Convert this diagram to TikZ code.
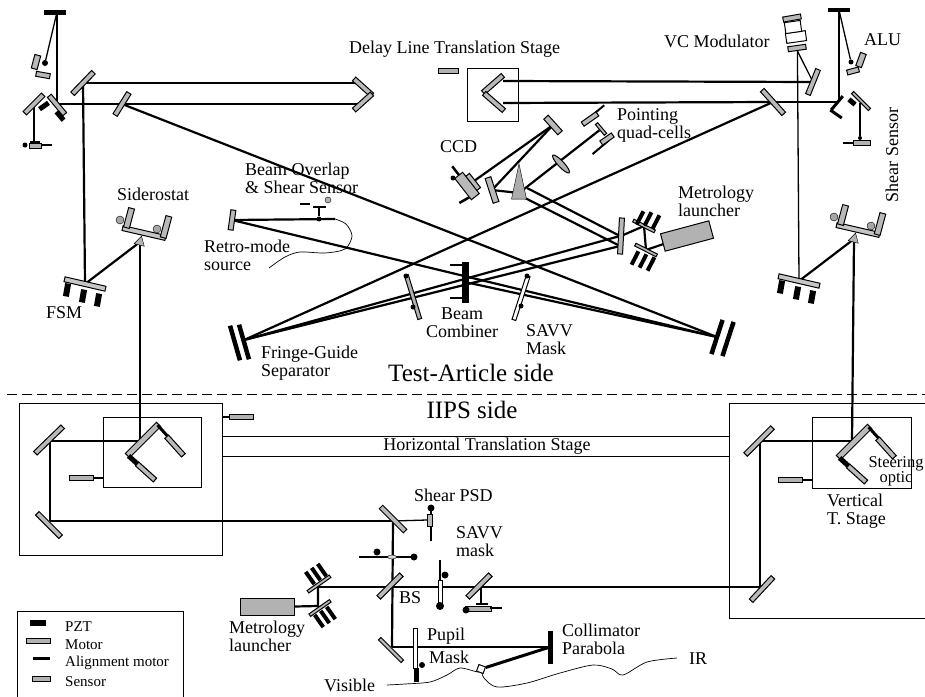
\documentclass[tikz,border=0pt]{standalone}
\usepackage{fontspec}
\setmainfont{Liberation Serif}
\usetikzlibrary{backgrounds, shapes.geometric}

\begin{document}
\begin{tikzpicture}[
  x=1pt, y=-1pt,
  mirror/.style={draw=black, fill=gray!55, line width=1pt, inner sep=0pt, minimum width=#1, minimum height=5pt},
  mirror/.default=26pt,
  pzt/.style={fill=black, inner sep=0pt, minimum width=#1, minimum height=5pt},
  pzt/.default=14pt,
  sensorbar/.style={draw=black, fill=gray!60, line width=1pt, inner sep=0pt, minimum width=24pt, minimum height=4.5pt},
  launcher/.style={draw=black, fill=gray!60, line width=1pt, inner sep=0pt},
  stagebox/.style={draw=black, line width=1pt, inner sep=0pt},
  ball/.style={circle, fill=black, inner sep=0pt, minimum size=#1},
  ball/.default=6pt,
  wedge/.style={regular polygon, regular polygon sides=3, draw=black, fill=gray!60, inner sep=0pt, minimum size=13pt},
  maskbar/.style={draw=black, fill=white, line width=1pt, inner sep=0pt, minimum width=#1, minimum height=4pt},
  beam/.style={line width=2.2pt},
  thinbeam/.style={line width=1.3pt},
  stageline/.style={line width=.9pt},
  fiber/.style={line width=.7pt},
  lbl/.style={inner sep=0pt, align=left, anchor=west, font=\fontsize{18}{18}\selectfont},
  lblc/.style={inner sep=0pt, align=center, font=\fontsize{18}{18}\selectfont},
  big/.style={inner sep=0pt, font=\fontsize{25}{25}\selectfont},
  leg/.style={inner sep=0pt, anchor=west, font=\fontsize{15}{15}\selectfont}
]
  \path[use as bounding box] (0,0) rectangle (925,696);

  % Test-article side, left arm
  \node[pzt=22pt] (aluL) at (55,12) {};
  \coordinate (aluLs) at (57,12);
  \coordinate (aluLt) at (57,104);
  \node[mirror=26pt, rotate=45] (shearL) at (34,104) {};
  \node[mirror=24pt, rotate=-50] (roofL) at (57,105) {};
  \node[pzt=11pt, rotate=-50] (roofLa) at (60,116) {};
  \node[pzt=11pt, rotate=35] (roofLb) at (44,106) {};
  \node[mirror=14pt, rotate=75, minimum height=6pt] (aluLa) at (36,62) {};
  \node[mirror=14pt, rotate=-10] (aluLb) at (43,75) {};
  \node[ball=6pt] (aluLc) at (45,63) {};
  \node[pzt=10pt, minimum height=2pt] (shearLa) at (35,142) {};
  \node[sensorbar, minimum width=12pt] (shearLb) at (35,146) {};
  \node[ball=5pt] (shearLc) at (25,145) {};
  \node[pzt=10pt, minimum height=1.5pt] (shearLd) at (47,145) {};
  \node[mirror=30pt, rotate=46] (foldA) at (83,83) {};
  \node[mirror=26pt, rotate=58] (pickA) at (122,104) {};
  \node[mirror=24pt, rotate=-42] (dlLa) at (363,87) {};
  \node[mirror=24pt, rotate=42] (dlLb) at (363,102) {};
  \coordinate (dlLtop) at (358,83);
  \coordinate (dlLbot) at (358,104);

  % Test-article side, right arm
  \node[pzt=22pt, minimum height=4pt] (aluR) at (839,10) {};
  \node[pzt=18pt, rotate=50, minimum height=3pt] (roofR) at (837,103) {};
  \node[pzt=14pt, rotate=-35, minimum height=3pt] (roofRa) at (836,114) {};
  \node[mirror=24pt, rotate=-45, minimum height=3pt] (shearR) at (861,101) {};
  \node[pzt=8pt, rotate=-40] (roofRb) at (852,102) {};
  \node[mirror=14pt, rotate=70, minimum height=6pt] (aluRa) at (861,60) {};
  \node[mirror=12pt, rotate=15] (aluRb) at (853,71) {};
  \node[ball=5pt] (aluRc) at (851,62) {};
  \node[sensorbar, minimum width=17pt] (shearRa) at (862,143) {};
  \node[pzt=10pt, minimum height=1.5pt] (shearRb) at (848,143) {};
  \node[ball=4pt] (shearRc) at (860,138) {};
  \coordinate (shearRt) at (860,103);
  \node[mirror=32pt, rotate=-48] (pickB) at (773,102) {};
  \node[mirror=27pt, rotate=68] (vcMirror) at (813,82) {};
  \node[mirror=18pt, rotate=8] (vcA) at (797,48) {};
  \node[draw, fill=white, line width=1pt, minimum width=20pt, minimum height=10pt, rotate=8, inner sep=0pt] (vcB) at (796,37) {};
  \node[draw, fill=white, line width=1pt, minimum width=16pt, minimum height=11pt, rotate=8, inner sep=0pt] (vcC) at (793,27) {};
  \node[mirror=18pt, rotate=10] (vcD) at (792,18) {};
  \node[stagebox, minimum width=51pt, minimum height=53pt] (delayBox) at (492.5,94.5) {};
  \node[mirror=26pt, rotate=41] (dlRa) at (493,84) {};
  \node[mirror=26pt, rotate=-41] (dlRb) at (494,102) {};
  \node[sensorbar, minimum width=20pt, fill=gray!60] (delaySensor) at (448,71) {};
  \coordinate (dlRtop) at (503,81);
  \coordinate (dlRbot) at (503,103);

  % FSM and siderostat, both arms
  \foreach \s/\dx/\dy in {L/0/0, R/714/-3} {
    \begin{scope}[shift={(\dx,\dy)}]
      \node[mirror=42pt, rotate=-13, fill=gray!45] (fsm\s) at (85,284) {};
      \node[pzt=13pt, rotate=80, minimum height=6pt] (fsm\s a) at (67,290) {};
      \node[pzt=13pt, rotate=80, minimum height=6pt] (fsm\s b) at (83,296) {};
      \node[pzt=13pt, rotate=80, minimum height=6pt] (fsm\s c) at (98,300) {};
      \node[mirror=44pt, rotate=-13, fill=gray!45] (sid\s) at (144,233) {};
      \node[mirror=20pt, rotate=75, minimum height=6pt] (sid\s a) at (129,218) {};
      \node[mirror=22pt, rotate=75, minimum height=6pt] (sid\s b) at (166,227) {};
      \node[ball=8pt, draw=black, fill=gray!70] (sid\s c) at (120,220) {};
      \node[ball=8pt, draw=black, fill=gray!70] (sid\s d) at (157,229) {};
      \node[wedge, minimum size=12pt, rotate=-15] (sid\s e) at (140,242) {};
    \end{scope}
  }

  % Beam combiner and fringe-guide mirrors
  \node[pzt=41pt, rotate=90, minimum height=7pt] (combiner) at (465,282) {};
  \node[pzt=15pt, minimum height=2.5pt] (combinerA) at (457,265) {};
  \node[pzt=15pt, minimum height=2.5pt] (combinerB) at (457,298) {};
  \node[pzt=36pt, rotate=-74, minimum height=4.5pt] (fgLa) at (235,343) {};
  \node[pzt=36pt, rotate=-74, minimum height=4.5pt] (fgLb) at (244,342) {};
  \node[pzt=36pt, rotate=72, minimum height=4.5pt] (fgRa) at (717,337) {};
  \node[pzt=36pt, rotate=72, minimum height=4.5pt] (fgRb) at (728,339) {};
  \coordinate (fgLc) at (244,340);
  \coordinate (fgRc) at (717,337);
  \node[maskbar=46pt, rotate=-73, draw=black, fill=gray!60] (savvL) at (413,297) {};
  \node[ball=5pt] (savvLa) at (406,276) {};
  \node[ball=5pt] (savvLb) at (413,307) {};
  \node[maskbar=46pt, rotate=72] (savvR) at (521,298) {};
  \node[ball=5pt] (savvRa) at (527,276) {};
  \node[ball=5pt] (savvRb) at (521,306) {};

  % Retro-mode source and beam overlap sensor
  \node[mirror=20pt, rotate=82, minimum height=5pt] (retroM) at (232,220) {};
  \node[ball=5pt] (bosA) at (319,219) {};
  \node[pzt=13pt, minimum height=2.5pt] (bosB) at (319,207) {};
  \node[pzt=10pt, minimum height=2pt] (bosC) at (305,204) {};
  \node[ball=6pt, draw=black, fill=gray!60] (bosD) at (328,200) {};
  \coordinate (bosEnd) at (335,219);
  \coordinate (retroEnd) at (269,268);

  % CCD, pointing and metrology
  \node[mirror=21pt, rotate=-48, minimum height=6pt] (ccdA) at (553,125) {};
  \node[mirror=26pt, rotate=-72, minimum height=6pt] (ccdB) at (492,190) {};
  \node[wedge, isosceles triangle, shape border rotate=90, isosceles triangle apex angle=24, minimum size=15pt, minimum height=30pt, fill=gray!65] (splitter) at (519,193) {};
  \coordinate (splitA) at (527,188);
  \coordinate (splitB) at (525,198);
  \coordinate (combMa) at (620,236);
  \coordinate (combMb) at (620,246);
  \node[pzt=22pt, rotate=-52, minimum height=2.5pt] (ccdC) at (459,175) {};
  \node[pzt=20pt, rotate=30, minimum height=2.5pt] (ccdE) at (468,198) {};
  \node[mirror=18pt, rotate=-52] (ccdF) at (473,182) {};
  \node[mirror=27pt, rotate=-52, minimum height=10pt] (ccd) at (467,186) {};
  \node[ball=5pt] (ccdD) at (453,178) {};
  \node[ellipse, draw=black, fill=gray!60, rotate=-47, minimum width=24pt, minimum height=6pt, inner sep=0pt, line width=1pt] (lens) at (561,164) {};
  \node[pzt=24pt, rotate=40, minimum height=2pt] (quadAa) at (595,113) {};
  \node[mirror=18pt, rotate=35] (quadA) at (590,119) {};
  \node[pzt=22pt, rotate=40, minimum height=2pt] (quadBa) at (601,147) {};
  \node[mirror=14pt, rotate=35] (quadB) at (607,139) {};
  \node[mirror=14pt, rotate=-50, minimum height=3pt] (quadSplit) at (601,129) {};
  \node[mirror=36pt, rotate=87, minimum height=5pt] (combM) at (621,236) {};
  \node[launcher, minimum width=50pt, minimum height=18pt, rotate=15] (launchT) at (687,236) {};
  \node[mirror=24pt, rotate=-27, minimum height=3pt] (launchTa) at (644,226) {};
  \node[mirror=24pt, rotate=-27, minimum height=3pt] (launchTb) at (646,250) {};
  \foreach \n/\lx/\ly in {a/640/218, b/648/219, c/656/222} {
    \node[pzt=15pt, rotate=63, minimum height=4pt] (launchTa\n) at (\lx,\ly) {};
  }
  \foreach \n/\lx/\ly in {a/635/258, b/643/261, c/651/264} {
    \node[pzt=15pt, rotate=63, minimum height=4pt] (launchTb\n) at (\lx,\ly) {};
  }

  % IIPS side, stages
  \node[stagebox, minimum width=203pt, minimum height=152pt] (outerL) at (120.5,479) {};
  \node[stagebox, minimum width=98pt, minimum height=70pt] (innerL) at (152,452) {};
  \node[stagebox, minimum width=203pt, minimum height=215pt] (outerR) at (830.5,510.5) {};
  \node[stagebox, minimum width=99pt, minimum height=71pt] (innerR) at (861.5,452.5) {};
  \node[sensorbar] (stageSensorA) at (241,417) {};
  \node[sensorbar] (stageSensorB) at (81,478) {};
  \node[sensorbar] (stageSensorC) at (790,480) {};
  \coordinate (hsTopL) at (222,436);
  \coordinate (hsBotL) at (222,456);
  \coordinate (hsTopR) at (729,436);
  \coordinate (hsBotR) at (729,456);
  \coordinate (divL) at (7,394);
  \coordinate (divR) at (925,394);

  % IIPS side, steering optics
  \foreach \s/\dx/\dy in {L/0/0, R/711/2} {
    \begin{scope}[shift={(\dx,\dy)}]
      \node[mirror=44pt, rotate=45, minimum height=6pt] (steerA\s) at (143,440) {};
      \node[pzt=40pt, rotate=-48, minimum height=3pt] (steerB\s) at (171,440) {};
      \node[mirror=25pt, rotate=-48] (steerD\s) at (175,446) {};
      \node[pzt=36pt, rotate=-42, minimum height=5pt] (steerC\s) at (142,468) {};
      \node[mirror=24pt, rotate=-42] (steerE\s) at (146,472) {};
    \end{scope}
  }
  \node[mirror=38pt, rotate=44] (foldB) at (49,440) {};
  \node[mirror=33pt, rotate=-45] (foldC) at (49,525) {};
  \node[mirror=38pt, rotate=45] (foldD) at (759,441) {};
  \node[mirror=32pt, rotate=47] (foldE) at (762,589) {};
  \coordinate (steerInL) at (140,441);
  \coordinate (steerInR) at (852,441);
  \coordinate (foldBc) at (50,441);
  \coordinate (foldCc) at (50,521);
  \coordinate (foldDc) at (760,441);
  \coordinate (foldEc) at (760,587);

  % IIPS side, source bench
  \node[mirror=34pt, rotate=-45] (psdM) at (393,519) {};
  \node[pzt=36pt, rotate=90, minimum height=2.5pt] (psd) at (431,523) {};
  \node[mirror=12pt, rotate=90] (psdA) at (430,520) {};
  \node[ball=7pt] (psdB) at (431,508) {};
  \coordinate (psdIn) at (427,520);
  \node[pzt=42pt, minimum height=2.5pt] (overlap) at (380,557) {};
  \node[pzt=16pt, minimum height=2.5pt] (overlapB) at (406,557) {};
  \node[ellipse, draw=black, fill=gray!30, minimum width=9pt, minimum height=4pt, inner sep=0pt] (overlapC) at (392,557) {};
  \node[ball=7pt] (overlapA) at (377,552) {};
  \node[ball=7pt] (overlapD) at (414,557) {};
  \node[mirror=32pt, rotate=45] (bs) at (390,586) {};
  \node[pzt=47pt, rotate=90, minimum height=2.5pt] (savvB) at (440,583) {};
  \node[maskbar=24pt, rotate=90] (savvBa) at (440,592) {};
  \node[ball=7pt] (savvBb) at (445,575) {};
  \node[ball=8pt] (savvBc) at (440,606) {};
  \node[mirror=32pt, rotate=45] (altM) at (479,586) {};
  \node[pzt=12pt, minimum height=2.5pt] (altA) at (482,604) {};
  \node[sensorbar, minimum width=26pt] (altB) at (478,609) {};
  \node[pzt=12pt, minimum height=2pt] (altC) at (496,608) {};
  \node[ball=7pt] (altD) at (466,610) {};
  \coordinate (altT) at (481,587);
  \coordinate (altS) at (481,603);
  \node[mirror=32pt, rotate=-45, minimum height=3.5pt] (lowM) at (391,650) {};
  \node[pzt=33pt, rotate=90] (collimator) at (550,647) {};
  \node[maskbar=40pt, rotate=90] (pupil) at (415,648) {};
  \node[pzt=14pt, rotate=90, minimum height=5pt] (pupilA) at (416,675) {};
  \node[ball=6pt] (pupilB) at (422,665) {};
  \node[draw=black, fill=white, line width=1pt, rotate=-20, minimum size=7pt, inner sep=0pt] (tip) at (481,669) {};
  \coordinate (lowMc) at (392,647);
  \coordinate (visEnd) at (387,685);
  \coordinate (irEnd) at (677,658);
  \node[launcher, minimum width=54pt, minimum height=17pt] (launchB) at (267,606.5) {};
  \node[mirror=27pt, rotate=35, minimum height=3pt] (launchBa) at (319,584) {};
  \node[mirror=25pt, rotate=35, minimum height=3pt] (launchBb) at (320,608) {};
  \foreach \n/\lx/\ly in {a/310/578, b/316/574, c/322/570} {
    \node[pzt=15pt, rotate=125, minimum height=4pt] (launchBa\n) at (\lx,\ly) {};
  }
  \foreach \n/\lx/\ly in {a/319/621, b/325/617, c/331/613} {
    \node[pzt=15pt, rotate=125, minimum height=4pt] (launchBb\n) at (\lx,\ly) {};
  }
  \coordinate (launchBc) at (318,606);
  \coordinate (launchBd) at (318,587);

  % Beams under the optics
  \begin{scope}[on background layer]
    \draw[beam] (foldA.center) -- (dlLtop);
    \draw[beam] (foldA.center) -- (fsmL.center);
    \draw[beam] (aluLs) -- (aluLt) -- (pickA.center) -- (dlLbot);
    \draw[beam] (pickA.center) -- (fgRc);
    \draw[thinbeam] (aluLs) -- (aluLc);
    \draw[thinbeam] (shearL.center) -- (shearL.center |- shearLa);
    \draw[beam] (fsmL.center) -- (sidLe.center);
    \draw[beam] (fsmR.center) -- (sidRe.center);
    \draw[beam] (sidLe.center) -- (steerInL);
    \draw[beam] (sidRe.center) -- (steerInR);
    \draw[beam] (dlRtop) -- (vcMirror.center);
    \draw[thinbeam] (vcMirror.center) -- (vcA.south);
    \draw[thinbeam] (vcA.south) -- (fsmR.center);
    \draw[beam] (dlRbot) -- (pickB.center);
    \draw[beam] (pickB.center) -- (aluR.center |- pickB.center);
    \draw[beam] (aluR.center) -- (aluR.center |- pickB.center);
    \draw[thinbeam] (aluR.center) -- (aluRc);
    \draw[beam] (shearRt) -- (shearRc);
    \draw[beam] (pickB.center) -- (fgLc);
    \draw[beam] (fgLc) -- (combMa);
    \draw[beam] (fgLc) -- (combMb);
    \draw[beam] (retroM.center) -- (bosEnd);
    \draw[beam] (retroM.center) -- (fgRc);
    \draw[beam] (combiner.center) -- (fgRc);
    \draw[thinbeam] (bosA) -- (bosB);
    \draw[beam] (ccdA.center) -- (ccd.center);
    \draw[beam] (ccdA.center) -- (ccdB.center);
    \draw[beam] (ccdB.center) -- (splitter.center);
    \draw[beam] (splitter.center) -- (quadSplit);
    \draw[beam] (splitA) -- (combMa);
    \draw[beam] (splitB) -- (combMb);
    \draw[beam] (launchT.center) -- (launchTb.center) -- (launchTa.center) -- (combM.center);
    % IIPS side
    \draw[stageline] (hsTopL) -- (hsTopR);
    \draw[stageline] (hsBotL) -- (hsBotR);
    \draw[thinbeam] (outerL.east |- stageSensorA) -- (stageSensorA.east);
    \draw[thinbeam] (innerL.west |- stageSensorB) -- (stageSensorB.east);
    \draw[thinbeam] (innerR.west |- stageSensorC) -- (stageSensorC.east);
    \draw[thinbeam] (foldBc) -- (steerInL);
    \draw[beam] (foldDc) -- (steerInR);
    \draw[beam] (foldBc) -- (foldCc);
    \draw[beam] (foldCc) -- (foldCc -| psdM.center);
    \draw[beam] (foldDc) -- (foldEc);
    \draw[thinbeam] (foldCc -| psdM.center) -- (psdIn);
    \draw[beam] (foldCc -| psdM.center) -- (lowMc);
    \draw[thinbeam] (launchBd) -- (foldEc);
    \draw[beam] (launchB.east) -- (launchBc) -- (launchBd);
    \draw[thinbeam] (altT) -- (altS);
    \draw[beam] (lowMc) -- (collimator.center);
    \draw[line width=3pt] (collimator.center) -- (tip);
    \draw[fiber] plot[smooth] coordinates {(bosEnd) (346,224) (352,236) (345,249) (325,253) (300,252) (285,257) (retroEnd)};
    \draw[fiber] plot[smooth] coordinates {(visEnd) (405,684) (430,682) (447,675) (460,668) (478,672) (tip)};
    \draw[fiber] plot[smooth] coordinates {(tip) (484,678) (497,687) (527,683) (560,673) (593,665) (612,669) (623,675) (647,662) (irEnd)};
    \draw[line width=.8pt, dash pattern=on 10pt off 5pt] (divL) -- (divR);
  \end{scope}

  % Labels
  \node[lbl] (lblDelay) at (349,49) {Delay Line Translation Stage};
  \node[lbl] (lblVC) at (664,41) {VC Modulator};
  \node[lbl] (lblALU) at (864,40) {ALU};
  \node[lbl] (lblPoint) at (617,125) {Pointing\\quad-cells};
  \node[lbl] (lblCCD) at (440,147) {CCD};
  \node[lbl] (lblBOS) at (245,178) {Beam Overlap\\\& Shear Sensor};
  \node[lbl] (lblSid) at (117,194) {Siderostat};
  \node[lbl] (lblRetro) at (204,255) {Retro-mode\\source};
  \node[lbl] (lblFSM) at (46,313) {FSM};
  \node[lbl] (lblMetT) at (678,201) {Metrology\\launcher};
  \node[lblc] (lblCombiner) at (462,323) {Beam\\Combiner};
  \node[lbl] (lblSavvT) at (526,340) {SAVV\\Mask};
  \node[lbl] (lblFringe) at (261,363) {Fringe-Guide\\Separator};
  \node[lbl, rotate=90, anchor=center] (lblShear) at (892,155) {Shear Sensor};
  \node[big] (lblTest) at (471,373) {Test-Article side};
  \node[big] (lblIIPS) at (472,410) {IIPS side};
  \node[lblc] (lblHoriz) at (487,446) {Horizontal Translation Stage};
  \node[lblc, font=\fontsize{16.5}{15}\selectfont] (lblSteer) at (896,471) {Steering\\optic};
  \node[lbl] (lblVert) at (827,511) {Vertical\\T. Stage};
  \node[lbl] (lblPSD) at (414,495) {Shear PSD};
  \node[lbl] (lblSavvB) at (456,542) {SAVV\\mask};
  \node[lbl] (lblBS) at (399,598) {BS};
  \node[lbl] (lblPupil) at (427,636) {Pupil};
  \node[lbl] (lblMask) at (429,657) {Mask};
  \node[lbl] (lblColl) at (562,639) {Collimator\\Parabola};
  \node[lbl] (lblIR) at (689,659) {IR};
  \node[lbl] (lblVis) at (324,685) {Visible};
  \node[lbl] (lblMetB) at (229,636) {Metrology\\launcher};

  % Legend
  \node[stagebox, minimum width=166pt, minimum height=95pt] (legendBox) at (100,658.5) {};
  \node[pzt=16pt, minimum height=6pt] (legPZT) at (38,623) {};
  \node[sensorbar] (legMotor) at (38,641) {};
  \node[pzt=17pt, minimum height=3pt] (legAlign) at (41,658) {};
  \node[sensorbar, minimum width=18pt] (legSensor) at (41,679) {};
  \node[leg] (lblPZT) at (65,627) {PZT};
  \node[leg] (lblMotor) at (65,645) {Motor};
  \node[leg] (lblAlign) at (65,663) {Alignment motor};
  \node[leg] (lblSensor) at (65,682) {Sensor};
\end{tikzpicture}
\end{document}
